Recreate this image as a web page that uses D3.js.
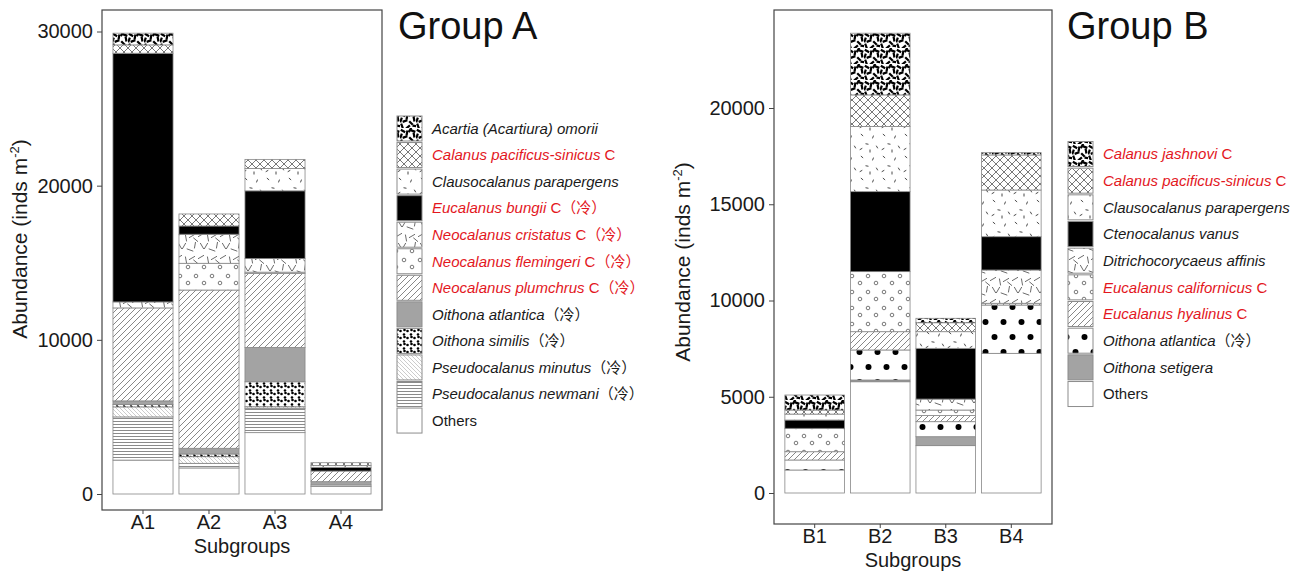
<!DOCTYPE html>
<html>
<head>
<meta charset="utf-8">
<script src="https://cdn.jsdelivr.net/npm/d3@7"></script>
<style>
  body { margin: 0; background: #fff; }
  svg { font-family: "Liberation Sans", Arial, sans-serif; }
</style>
</head>
<body>
<script>
// ---- data ----
var subgroupsA = ["A1", "A2", "A3", "A4"];
var speciesA = ["Acartia (Acartiura) omorii", "Calanus pacificus-sinicus", "Clausocalanus parapergens",
  "Eucalanus bungii", "Neocalanus cristatus", "Neocalanus flemingeri", "Neocalanus plumchrus",
  "Oithona atlantica", "Oithona similis", "Pseudocalanus minutus", "Pseudocalanus newmani", "Others"];
var suffixC_A = [0, 1, 0, 1, 1, 1, 1, 0, 0, 0, 0, 0];
var coldA     = [0, 0, 0, 1, 1, 1, 1, 1, 1, 1, 1, 0];
// one row per species (legend order), one column per subgroup
var abundanceA = [
  [760, 0, 0, 0],
  [540, 780, 585, 180],
  [0, 0, 1455, 120],
  [16130, 535, 4385, 240],
  [390, 1885, 890, 0],
  [0, 1735, 80, 0],
  [6030, 10265, 4800, 690],
  [230, 370, 2230, 215],
  [160, 175, 1620, 0],
  [650, 430, 100, 0],
  [2800, 300, 1580, 95],
  [2200, 1690, 3980, 490]
];
var patternsA = ["worms", "cross", "dash", "black", "vee", "ring", "diag", "gray", "smalldot", "fine", "hline", "white"];
var ticksA = [0, 10000, 20000, 30000];

var subgroupsB = ["B1", "B2", "B3", "B4"];
var speciesB = ["Calanus jashnovi", "Calanus pacificus-sinicus", "Clausocalanus parapergens",
  "Ctenocalanus vanus", "Ditrichocorycaeus affinis", "Eucalanus californicus", "Eucalanus hyalinus",
  "Oithona atlantica", "Oithona setigera", "Others"];
var suffixC_B = [1, 1, 0, 0, 0, 1, 1, 0, 0, 0];
var coldB     = [0, 0, 0, 0, 0, 0, 0, 1, 0, 0];
var abundanceB = [
  [780, 3205, 230, 120],
  [210, 1645, 465, 1820],
  [310, 3380, 865, 2425],
  [430, 4155, 2635, 1730],
  [0, 0, 570, 1730],
  [1215, 3120, 285, 0],
  [430, 950, 320, 90],
  [520, 1560, 780, 2510],
  [0, 90, 465, 0],
  [1195, 5780, 2460, 7255]
];
var patternsB = ["worms", "cross", "dash", "black", "vee", "ring", "diag", "bigdot", "gray", "white"];
var ticksB = [0, 5000, 10000, 15000, 20000];

var RED = "#e3171e";

var svg = d3.select("body").append("svg").attr("width", 1300).attr("height", 574);
var defs = svg.append("defs");

function makePattern(id, w, h, draw) {
  var p = defs.append("pattern").attr("id", id)
    .attr("patternUnits", "userSpaceOnUse").attr("width", w).attr("height", h);
  p.append("rect").attr("width", w).attr("height", h).attr("fill", "#fff");
  draw(p);
}
function strokes(p, list, len, width, color) {
  list.forEach(function (s) {
    var a = s[2] * Math.PI / 180, dx = Math.cos(a) * len / 2, dy = Math.sin(a) * len / 2;
    p.append("line").attr("x1", s[0] - dx).attr("y1", s[1] - dy).attr("x2", s[0] + dx).attr("y2", s[1] + dy)
      .attr("stroke", color).attr("stroke-width", width);
  });
}
makePattern("worms", 16, 16, function (p) {
  strokes(p, [[3, 3, 30], [10, 2, -60], [14, 7, 80], [5, 9, -20], [11, 11, 45], [2, 14, 70], [8, 15, -40],
    [15, 14, 10], [7, 5, 100], [13, 3, 20], [1, 8, 110]], 5, 2.2, "#000");
});
makePattern("cross", 8, 8, function (p) {
  p.append("path").attr("d", "M0,0L8,8M8,0L0,8").attr("stroke", "#555").attr("stroke-width", 0.8);
});
makePattern("dash", 22, 22, function (p) {
  strokes(p, [[4, 3, 40], [15, 5, -70], [9, 12, 10], [19, 15, 60], [3, 17, -30], [12, 19, 90]], 3, 0.9, "#333");
});
makePattern("black", 4, 4, function (p) {
  p.append("rect").attr("width", 4).attr("height", 4).attr("fill", "#000");
});
makePattern("vee", 22, 22, function (p) {
  strokes(p, [[4, 4, 60], [8, 4, 120], [14, 8, 20], [19, 3, 100], [3, 15, -30], [10, 18, 80], [16, 16, 150], [20, 20, 40]], 7, 0.8, "#444");
});
makePattern("ring", 16, 16, function (p) {
  [[4, 4], [12, 11]].forEach(function (c) {
    p.append("circle").attr("cx", c[0]).attr("cy", c[1]).attr("r", 1.8).attr("fill", "none").attr("stroke", "#555").attr("stroke-width", 0.8);
  });
});
makePattern("diag", 6, 6, function (p) {
  p.append("path").attr("d", "M0,6L6,0M-1,1L1,-1M5,7L7,5").attr("stroke", "#555").attr("stroke-width", 0.7);
});
makePattern("gray", 4, 4, function (p) {
  p.append("rect").attr("width", 4).attr("height", 4).attr("fill", "#a3a3a3");
});
makePattern("smalldot", 7, 7, function (p) {
  [[1.5, 2], [5, 5.5], [5.5, 1]].forEach(function (c) {
    p.append("circle").attr("cx", c[0]).attr("cy", c[1]).attr("r", 1.3).attr("fill", "#000");
  });
});
makePattern("fine", 4, 4, function (p) {
  p.append("path").attr("d", "M0,0L4,4M3,-1L5,1M-1,3L1,5").attr("stroke", "#aaa").attr("stroke-width", 0.6);
});
makePattern("hline", 4, 3, function (p) {
  p.append("line").attr("x1", 0).attr("x2", 4).attr("y1", 1.5).attr("y2", 1.5).attr("stroke", "#8a8a8a").attr("stroke-width", 1);
});
makePattern("bigdot", 18, 30, function (p) {
  [[4.5, 7], [13.5, 22]].forEach(function (c) {
    p.append("circle").attr("cx", c[0]).attr("cy", c[1]).attr("r", 3).attr("fill", "#000");
  });
});
makePattern("white", 4, 4, function (p) {});

function drawPanel(o) {
  var g = svg.append("g");
  var x = d3.scaleBand().domain(o.subgroups).range([o.left, o.right])
    .paddingInner(0.09).paddingOuter(0.166);
  var y = d3.scaleLinear().domain(o.yDomain).range(o.yRange);

  // table for the stack, bottom layer = last legend entry
  var rows = o.subgroups.map(function (s, j) {
    var r = { subgroup: s };
    o.species.forEach(function (sp, i) { r["k" + i] = o.abundance[i][j]; });
    return r;
  });
  var keys = o.species.map(function (d, i) { return "k" + i; }).reverse();
  var series = d3.stack().keys(keys)(rows);

  g.selectAll("g.layer").data(series).join("g").attr("class", "layer")
    .attr("fill", function (d) { return "url(#" + o.patterns[+d.key.slice(1)] + ")"; })
    .selectAll("rect").data(function (d) { return d; }).join("rect")
    .attr("x", function (d) { return x(d.data.subgroup); })
    .attr("width", x.bandwidth())
    .attr("y", function (d) { return y(d[1]); })
    .attr("height", function (d) { return y(d[0]) - y(d[1]); })
    .attr("stroke", "#888").attr("stroke-width", 0.8);

  // frame
  g.append("rect").attr("x", o.left).attr("y", o.top).attr("width", o.right - o.left)
    .attr("height", o.bottom - o.top).attr("fill", "none").attr("stroke", "#444").attr("stroke-width", 1.2);

  var ya = g.append("g").attr("transform", "translate(" + o.left + ",0)")
    .call(d3.axisLeft(y).tickValues(o.ticks).tickSize(5).tickPadding(4).tickFormat(d3.format("d")));
  ya.select(".domain").remove();
  ya.selectAll("text").attr("font-size", 20).attr("fill", "#1a1a1a").attr("font-family", "Liberation Sans, Arial");
  ya.selectAll("line").attr("stroke", "#444");

  var xa = g.append("g").attr("transform", "translate(0," + o.bottom + ")")
    .call(d3.axisBottom(x).tickSize(4).tickPadding(1));
  xa.select(".domain").remove();
  xa.selectAll("text").attr("font-size", 20).attr("fill", "#1a1a1a").attr("font-family", "Liberation Sans, Arial");
  xa.selectAll("line").attr("stroke", "#444");

  g.append("text").attr("x", (o.left + o.right) / 2).attr("y", o.bottom + 43)
    .attr("text-anchor", "middle").attr("font-size", 20).attr("fill", "#1a1a1a").text("Subgroups");

  var yt = g.append("text").attr("transform", "translate(" + o.yTitleX + "," + o.yTitleY + ") rotate(-90)")
    .attr("text-anchor", "middle").attr("font-size", 21).attr("fill", "#1a1a1a");
  yt.append("tspan").text("Abundance (inds m");
  yt.append("tspan").attr("font-size", 13).attr("dy", -8).text("-2");
  yt.append("tspan").attr("dy", 8).text(")");

  g.append("text").attr("x", o.titleX).attr("y", 39).attr("font-size", 38).attr("fill", "#111").text(o.title);

  // legend
  var lg = g.append("g");
  o.species.forEach(function (sp, i) {
    var cy = o.legY + i * o.legStep;
    lg.append("rect").attr("x", o.legX).attr("y", cy - 12.5).attr("width", 25).attr("height", 25)
      .attr("fill", "url(#" + o.patterns[i] + ")").attr("stroke", "#8c8c8c").attr("stroke-width", 1);
    var red = o.suffixC[i] === 1;
    var t = lg.append("text").attr("x", o.legX + 35).attr("y", cy).attr("dy", "0.35em")
      .attr("font-size", 15).attr("fill", red ? RED : "#1a1a1a");
    t.append("tspan").attr("font-style", sp === "Others" ? "normal" : "italic").text(sp);
    if (red) t.append("tspan").text(" C");
    if (o.cold[i]) t.append("tspan").attr("font-family", "Noto Sans CJK SC").text("（冷）");
  });
}

drawPanel({
  subgroups: subgroupsA, species: speciesA, abundance: abundanceA, patterns: patternsA,
  suffixC: suffixC_A, cold: coldA, ticks: ticksA,
  left: 102, right: 382, top: 10, bottom: 510,
  yDomain: [0, 30000], yRange: [494, 31.5],
  yTitleX: 27, yTitleY: 239, title: "Group A", titleX: 398,
  legX: 397, legY: 128.5, legStep: 26.55
});
drawPanel({
  subgroups: subgroupsB, species: speciesB, abundance: abundanceB, patterns: patternsB,
  suffixC: suffixC_B, cold: coldB, ticks: ticksB,
  left: 774, right: 1052, top: 10, bottom: 524,
  yDomain: [0, 20000], yRange: [493, 108],
  yTitleX: 690, yTitleY: 262, title: "Group B", titleX: 1067,
  legX: 1068, legY: 154, legStep: 26.67
});
</script>
</body>
</html>
